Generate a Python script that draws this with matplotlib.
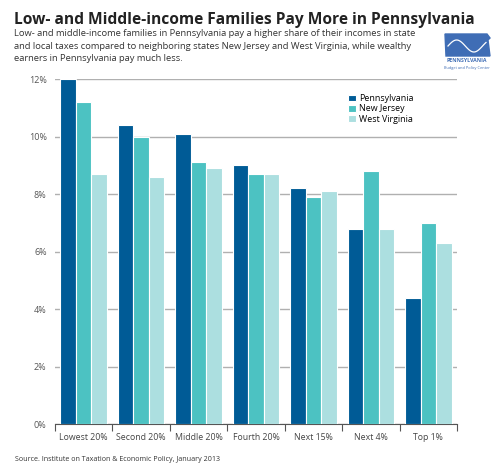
import numpy as np
import matplotlib
matplotlib.use("Agg")
import matplotlib.pyplot as plt
from matplotlib.patches import Polygon

# Dados
grupos = ["Lowest 20%", "Second 20%", "Middle 20%", "Fourth 20%", "Next 15%", "Next 4%", "Top 1%"]
pennsylvania = [12.0, 10.4, 10.1, 9.0, 8.2, 6.8, 4.4]
new_jersey = [11.2, 10.0, 9.1, 8.7, 7.9, 8.8, 7.0]
west_virginia = [8.7, 8.6, 8.9, 8.7, 8.1, 6.8, 6.3]
y_ticks = [0, 2, 4, 6, 8, 10, 12]

cores = ["#005b96", "#4cc2c2", "#acdfe0"]
plt.rcParams["font.family"] = ["Open Sans", "DejaVu Sans"]

fig = plt.figure(figsize=(5, 4.68), dpi=100)
ax = fig.add_axes([0.11, 0.094, 0.804, 0.737])

x = np.arange(len(grupos))
w = 0.27
for i, (vals, nome) in enumerate(zip([pennsylvania, new_jersey, west_virginia],
                                     ["Pennsylvania", "New Jersey", "West Virginia"])):
    ax.bar(x + (i - 1) * w, vals, width=w, color=cores[i], edgecolor="white",
           linewidth=0.8, label=nome, zorder=3)

ax.set_xlim(-0.5, len(grupos) - 0.5)
ax.set_ylim(0, 12)
ax.set_yticks(y_ticks)
ax.set_yticklabels([f"{t}%" for t in y_ticks], fontsize=6.5, color="#555555")
ax.yaxis.grid(True, color="#b0b0b0", linewidth=1, zorder=0)
ax.tick_params(axis="y", length=0, pad=6)

# marcas entre grupos
ax.set_xticks(np.arange(-0.5, len(grupos), 1), minor=False)
ax.set_xticklabels([])
ax.tick_params(axis="x", length=5, width=0.8, color="#555555", direction="out")
for xi, g in zip(x, grupos):
    ax.text(xi, -0.3, g, ha="center", va="top", fontsize=6.3, color="#444444")

for s in ["top", "right", "left"]:
    ax.spines[s].set_visible(False)
ax.spines["bottom"].set_color("#555555")
ax.spines["bottom"].set_linewidth(0.8)

leg = ax.legend(loc="upper left", bbox_to_anchor=(0.71, 0.98), frameon=False,
                fontsize=6.4, handlelength=0.8, handleheight=0.8, handletextpad=0.4,
                labelspacing=0.15)

# Títulos
fig.text(0.028, 0.957, "Low- and Middle-income Families Pay More in Pennsylvania",
         fontsize=11.2, fontweight="bold", color="#222222", va="center")
sub = ("Low- and middle-income families in Pennsylvania pay a higher share of their incomes in state\n"
       "and local taxes compared to neighboring states New Jersey and West Virginia, while wealthy\n"
       "earners in Pennsylvania pay much less.")
fig.text(0.028, 0.937, sub, fontsize=6.75, color="#333333", va="top", linespacing=1.5)
fig.text(0.03, 0.019, "Source. Institute on Taxation & Economic Policy, January 2013",
         fontsize=5.1, color="#333333", va="center")

# Logo
pts = [(445, 34), (487, 34), (490, 38), (488, 40), (490, 56), (446, 56)]
logo = Polygon([(px / 500, 1 - py / 468) for px, py in pts], closed=True,
               transform=fig.transFigure, color="#3f6db5")
fig.add_artist(logo)
t = np.linspace(0, 1, 50)
lx = 448 + 38 * t
ly = 46 - 6 * np.sin(2 * np.pi * t * 1.1)
fig.add_artist(plt.Line2D(lx / 500, 1 - ly / 468, transform=fig.transFigure,
                          color="white", linewidth=0.9))
fig.text(0.933, 1 - 61 / 468, "PENNSYLVANIA", fontsize=3.8, color="#3f6db5",
         ha="center", va="center", fontweight="bold")
fig.text(0.933, 1 - 68 / 468, "Budget and Policy Center", fontsize=2.8, color="#3f6db5",
         ha="center", va="center")

fig.savefig("out.png", dpi=100)
